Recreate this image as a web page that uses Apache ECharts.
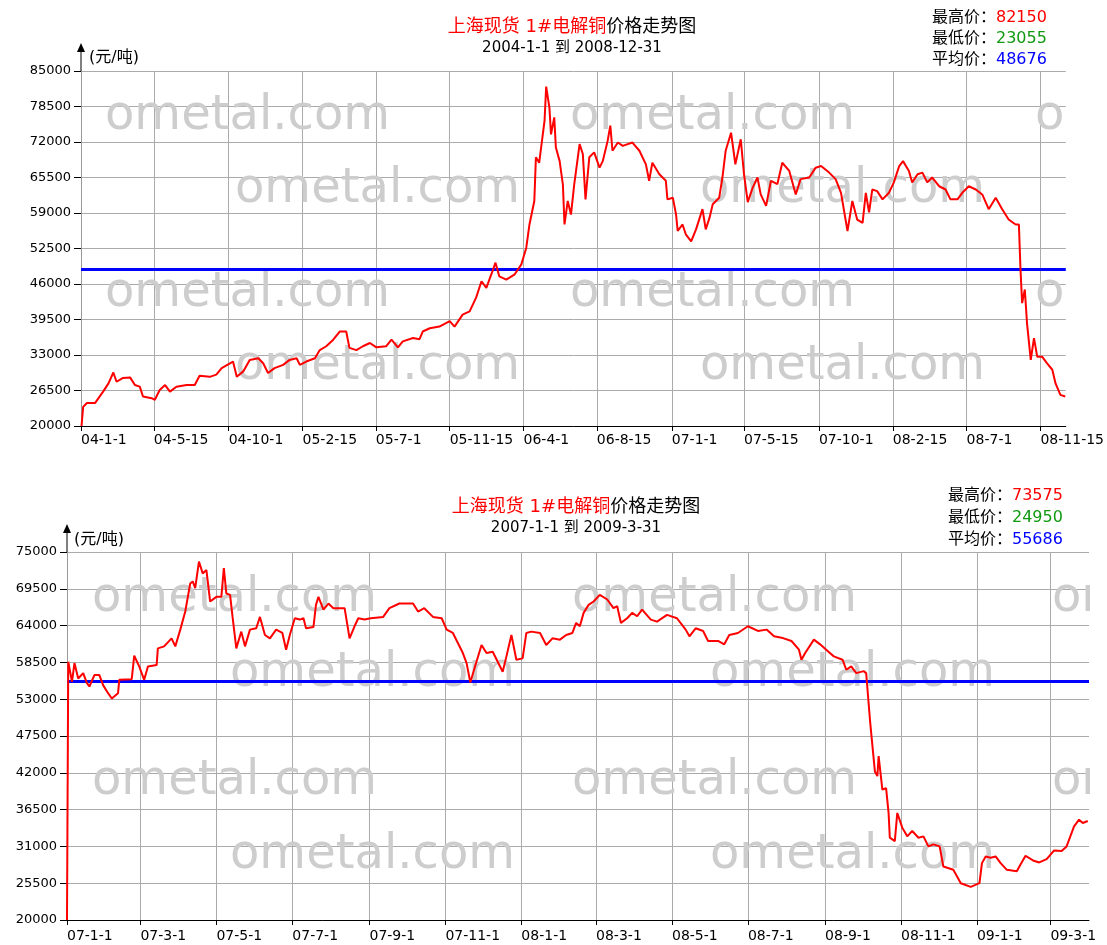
<!DOCTYPE html>
<html><head><meta charset="utf-8">
<script src="https://cdn.jsdelivr.net/npm/echarts@6/dist/echarts.min.js"></script>
<style>html,body{margin:0;padding:0;background:#fff}#c{width:1107px;height:945px}</style>
</head><body><div id="c"></div>
<script>
// ---------- Chart 1 data: 2004-1-1 .. 2008-12-31 ----------
const dates1 = [
'2004-01-02','2004-01-05','2004-01-12','2004-01-27','2004-02-11','2004-02-21','2004-03-01','2004-03-07','2004-03-19','2004-04-01','2004-04-10','2004-04-19','2004-04-25','2004-05-11','2004-05-17','2004-05-26','2004-06-05','2004-06-14','2004-06-26','2004-07-15','2004-07-30','2004-08-08','2004-08-27','2004-09-08','2004-09-18','2004-10-09','2004-10-16','2004-10-28','2004-11-09','2004-11-25','2004-12-04','2004-12-13','2004-12-25',
'2005-01-10','2005-01-22','2005-02-04','2005-02-10','2005-02-22','2005-03-10','2005-03-19','2005-03-31','2005-04-13','2005-04-25','2005-05-07','2005-05-13','2005-05-26','2005-06-07','2005-06-20','2005-07-02','2005-07-20','2005-07-30','2005-08-11','2005-08-20','2005-09-08','2005-09-20','2005-09-26','2005-10-09','2005-10-27','2005-11-15','2005-11-24','2005-12-09','2005-12-22',
'2006-01-03','2006-01-13','2006-01-22','2006-01-31','2006-02-08','2006-02-15','2006-02-28','2006-03-15','2006-03-28','2006-04-06','2006-04-12','2006-04-21','2006-04-24','2006-04-30','2006-05-10','2006-05-13','2006-05-19','2006-05-22','2006-05-28','2006-05-31','2006-06-07','2006-06-13','2006-06-16','2006-06-22','2006-06-28','2006-07-04','2006-07-14','2006-07-20','2006-07-25','2006-08-01','2006-08-10','2006-08-20','2006-08-26','2006-09-04','2006-09-09','2006-09-13','2006-09-23','2006-10-02','2006-10-20','2006-11-02','2006-11-14','2006-11-20','2006-11-26','2006-12-09','2006-12-21','2006-12-24',
'2007-01-03','2007-01-09','2007-01-12','2007-01-21','2007-01-27','2007-02-06','2007-02-15','2007-02-27','2007-03-05','2007-03-12','2007-03-18','2007-03-30','2007-04-05','2007-04-11','2007-04-21','2007-04-29','2007-05-09','2007-05-15','2007-05-22','2007-05-31','2007-06-09','2007-06-15','2007-06-25','2007-07-04','2007-07-16','2007-07-25','2007-08-07','2007-08-19','2007-08-28','2007-09-13','2007-09-25','2007-10-05','2007-10-20','2007-11-01','2007-11-11','2007-11-23','2007-12-02','2007-12-11','2007-12-21','2007-12-27',
'2008-01-02','2008-01-08','2008-01-17','2008-01-27','2008-02-08','2008-02-17','2008-02-27','2008-03-05','2008-03-16','2008-03-22','2008-04-01','2008-04-10','2008-04-19','2008-04-28','2008-05-11','2008-05-23','2008-06-01','2008-06-14','2008-06-23','2008-07-05','2008-07-18','2008-07-30','2008-08-11','2008-08-24','2008-09-05','2008-09-17','2008-09-30','2008-10-06','2008-10-09','2008-10-12','2008-10-17','2008-10-21','2008-10-28','2008-11-03','2008-11-09','2008-11-18','2008-11-27','2008-12-07','2008-12-13','2008-12-22','2008-12-31'];
const prices1 = [
20000,23500,24200,24200,26300,27800,29800,28100,28800,28900,27500,27200,25400,25100,24800,26600,27500,26300,27200,27500,27500,29200,29000,29400,30600,31800,29000,30000,32100,32400,31500,29700,30600,
31200,32100,32400,31200,31800,32400,33900,34600,35800,37300,37300,34300,33900,34600,35200,34400,34600,35800,34400,35500,36100,35900,37300,37900,38200,39200,38200,40400,41000,
43500,46500,45300,47700,49900,47400,46800,47700,49600,52600,56900,61200,69200,68200,75900,82150,78300,73400,76500,71000,68500,64200,56900,61200,58700,64200,71600,69800,61500,69200,70100,67300,68500,72200,75000,70400,71900,71300,71900,70400,67900,64900,68200,66100,64900,61500,
61800,58700,55700,56900,55100,53800,56000,59700,56000,58100,60600,61800,65500,70400,73700,67900,72500,66100,61000,63600,65500,62400,60300,64900,64300,68200,66700,62400,65200,65500,67300,67600,66400,65200,62700,55700,61200,57800,57200,62700,
59100,63300,63000,61500,62700,64600,67600,68500,66700,64600,66100,66400,64600,65500,63900,63300,61500,61500,62700,63900,63300,62400,59700,61800,59700,57800,56900,56900,48600,42500,45000,38900,32100,36100,32700,32700,31500,30300,27800,25700,25400];
const tickDates1 = ['2004-01-01','2004-05-15','2004-10-01','2005-02-15','2005-07-01','2005-11-15','2006-04-01','2006-08-15','2007-01-01','2007-05-15','2007-10-01','2008-02-15','2008-07-01','2008-11-15'];
const tickLabels1 = ['04-1-1','04-5-15','04-10-1','05-2-15','05-7-1','05-11-15','06-4-1','06-8-15','07-1-1','07-5-15','07-10-1','08-2-15','08-7-1','08-11-15'];
const yRange1 = [20000, 85000, 6500];          // min, max, step
const stats1 = [82150, 23055, 48676];           // 最高价, 最低价, 平均价
const subtitle1 = '2004-1-1 到 2008-12-31';
const xRange1 = ['2004-01-01', '2009-01-01'];

// ---------- Chart 2 data: 2007-1-1 .. 2009-3-31 ----------
const dates2 = [
'2007-01-01','2007-01-02','2007-01-05','2007-01-07','2007-01-10','2007-01-14','2007-01-17','2007-01-19','2007-01-23','2007-01-27','2007-01-30','2007-02-03','2007-02-06','2007-02-11','2007-02-12','2007-02-22','2007-02-24','2007-02-28','2007-03-04','2007-03-07','2007-03-14','2007-03-15','2007-03-20','2007-03-26','2007-03-29','2007-04-02','2007-04-06','2007-04-10','2007-04-12','2007-04-14','2007-04-17','2007-04-20','2007-04-23','2007-04-26','2007-05-01','2007-05-05','2007-05-07','2007-05-09','2007-05-12','2007-05-14','2007-05-17','2007-05-21','2007-05-24','2007-05-28','2007-06-02','2007-06-05','2007-06-09','2007-06-13','2007-06-18','2007-06-23','2007-06-26','2007-06-29','2007-07-03','2007-07-07','2007-07-10','2007-07-12','2007-07-18','2007-07-20','2007-07-22','2007-07-26','2007-07-30','2007-08-03','2007-08-12','2007-08-16','2007-08-20','2007-08-23','2007-08-28','2007-09-02','2007-09-12','2007-09-17','2007-09-25','2007-10-06','2007-10-10','2007-10-15','2007-10-22','2007-10-29','2007-11-02','2007-11-07','2007-11-11','2007-11-15','2007-11-18','2007-11-21','2007-11-24','2007-11-30','2007-12-04','2007-12-09','2007-12-13','2007-12-17','2007-12-20','2007-12-24','2007-12-28',
'2008-01-02','2008-01-05','2008-01-09','2008-01-16','2008-01-21','2008-01-26','2008-02-01','2008-02-06','2008-02-11','2008-02-14','2008-02-17','2008-02-20','2008-02-24','2008-02-28','2008-03-04','2008-03-10','2008-03-15','2008-03-18','2008-03-21','2008-03-26','2008-03-30','2008-04-03','2008-04-07','2008-04-14','2008-04-19','2008-04-27','2008-05-05','2008-05-12','2008-05-15','2008-05-20','2008-05-26','2008-05-30','2008-06-07','2008-06-12','2008-06-16','2008-06-23','2008-07-01','2008-07-09','2008-07-16','2008-07-22','2008-07-28','2008-08-05','2008-08-11','2008-08-13','2008-08-16','2008-08-23','2008-08-28','2008-09-03','2008-09-08','2008-09-15','2008-09-18','2008-09-22','2008-09-26','2008-10-02','2008-10-04','2008-10-07','2008-10-08','2008-10-11','2008-10-13','2008-10-14','2008-10-17','2008-10-20','2008-10-22','2008-10-23','2008-10-27','2008-10-29','2008-11-02','2008-11-06','2008-11-10','2008-11-15','2008-11-19','2008-11-23','2008-11-27','2008-12-02','2008-12-05','2008-12-13','2008-12-19','2008-12-27',
'2009-01-03','2009-01-05','2009-01-08','2009-01-12','2009-01-16','2009-01-20','2009-01-25','2009-02-02','2009-02-05','2009-02-09','2009-02-15','2009-02-20','2009-02-26','2009-03-04','2009-03-10','2009-03-14','2009-03-20','2009-03-24','2009-03-27','2009-03-31'];
const prices2 = [
20000,58600,55600,58400,56100,56900,55400,54900,56600,56600,55100,53900,53100,53900,55900,56000,59500,57900,55900,57900,58100,60600,60900,62100,60900,63400,66100,70300,70600,69600,73575,71800,72300,67600,68300,68300,72600,68800,68600,65300,60600,63100,60900,63400,63600,65300,62600,62100,63400,62900,60400,62600,65100,64900,65100,63600,63800,67100,68300,66400,67300,66600,66600,62100,63900,65100,64900,65100,65300,66600,67300,67300,66100,66600,65300,65100,63400,62900,61400,59900,58400,55500,57400,61100,59900,60100,58600,57100,59400,62600,58900,
59100,62900,63100,62900,61100,62100,61900,62600,62900,64400,63900,65900,67100,67600,68600,67900,66600,66900,64400,65100,65900,65400,66400,64900,64600,65600,65100,63400,62400,63600,63200,61700,61700,61200,62600,62900,63900,63200,63400,62400,62200,61700,60400,58900,59900,61900,61200,60200,59400,58900,57400,57900,56900,57200,56900,50000,48000,42200,41500,44500,39500,39700,36000,32300,31800,36000,33800,32500,33300,32300,32500,31000,31300,31000,28000,27500,25500,24950,
25500,28500,29500,29300,29500,28500,27500,27300,28300,29600,28900,28600,29100,30400,30300,31000,34000,35000,34500,34800];
const tickDates2 = ['2007-01-01','2007-03-01','2007-05-01','2007-07-01','2007-09-01','2007-11-01','2008-01-01','2008-03-01','2008-05-01','2008-07-01','2008-09-01','2008-11-01','2009-01-01','2009-03-01'];
const tickLabels2 = ['07-1-1','07-3-1','07-5-1','07-7-1','07-9-1','07-11-1','08-1-1','08-3-1','08-5-1','08-7-1','08-9-1','08-11-1','09-1-1','09-3-1'];
const yRange2 = [20000, 75000, 5500];
const stats2 = [73575, 24950, 55686];
const subtitle2 = '2007-1-1 到 2009-3-31';
const xRange2 = ['2007-01-01', '2009-04-01'];

const titleRed = '上海现货 1#电解铜';
const titleBlack = '价格走势图';
const unitName = '(元/吨)';
const statNames = ['最高价：', '最低价：', '平均价：'];
const watermark = 'ometal.com';

// ---------- helpers ----------
const FONT = 'DejaVu Sans, "Noto Sans CJK SC", sans-serif';
const toTs = s => { const p = s.split('-').map(Number); return Date.UTC(p[0], p[1] - 1, p[2]); };
const pairs = (d, v) => d.map((s, i) => [toTs(s), v[i]]);
const labelFor = (v, td, tl) => { let b = 0, bd = Infinity; td.forEach((d, i) => { const x = Math.abs(toTs(d) - v); if (x < bd) { bd = x; b = i; } }); return tl[b]; };

const G = [
  { left: 81, top: 71, width: 986, height: 355 },
  { left: 67, top: 552, width: 1022, height: 368 }
];
const cfg = [
  { dates: dates1, prices: prices1, td: tickDates1, tl: tickLabels1, yr: yRange1, st: stats1, sub: subtitle1, xr: xRange1, xMargin: 7, yMargin: 10, nameGap: 13, namePad: 8,
    titleX: 572, titleY: 27, subY: 48, statX: 932, statY: [18, 39, 60],
    wm: [[105, 117], [570, 117], [1035, 117], [235, 190], [700, 190], [105, 294], [570, 294], [1035, 294], [235, 367], [700, 367]] },
  { dates: dates2, prices: prices2, td: tickDates2, tl: tickLabels2, yr: yRange2, st: stats2, sub: subtitle2, xr: xRange2, xMargin: 9, yMargin: 10, nameGap: 12, namePad: 7,
    titleX: 576, titleY: 507, subY: 528, statX: 948, statY: [496, 518, 540],
    wm: [[92, 599], [572, 599], [1052, 599], [230, 674], [710, 674], [92, 782], [572, 782], [1052, 782], [230, 856], [710, 856]] }
];

const grid = [], xAxis = [], yAxis = [], series = [], graphic = [];
cfg.forEach((c, i) => {
  const g = G[i];
  grid.push(Object.assign({ containLabel: false }, g));
  const tv = c.td.map(toTs);
  xAxis.push({
    type: 'value', gridIndex: i, min: toTs(c.xr[0]), max: toTs(c.xr[1]),
    axisLine: { show: true, onZero: false, lineStyle: { color: '#000', width: 1 } },
    axisTick: { show: true, customValues: tv, length: 5, lineStyle: { color: '#000' } },
    axisLabel: { show: true, customValues: tv, formatter: v => labelFor(v, c.td, c.tl), color: '#000', fontSize: 14, fontFamily: FONT, align: 'left', margin: c.xMargin },
    splitLine: { show: true, lineStyle: { color: '#aaaaaa', width: 1 } }
  });
  yAxis.push({
    type: 'value', gridIndex: i, min: c.yr[0], max: c.yr[1], interval: c.yr[2],
    axisLine: { show: true, lineStyle: { color: '#999999', width: 1 } },
    axisTick: { show: true, length: 7, lineStyle: { color: '#000' } },
    axisLabel: { color: '#000', fontSize: 13, fontFamily: FONT, margin: c.yMargin, formatter: v => String(v) },
    splitLine: { show: true, lineStyle: { color: '#aaaaaa', width: 1 } },
    name: unitName, nameLocation: 'end', nameGap: c.nameGap,
    nameTextStyle: { align: 'left', verticalAlign: 'middle', padding: [0, 0, 0, c.namePad], fontSize: 16, fontFamily: FONT, color: '#000' }
  });
  series.push({
    type: 'line', xAxisIndex: i, yAxisIndex: i, data: pairs(c.dates, c.prices),
    showSymbol: false, symbol: 'none', z: 5, animation: false,
    lineStyle: { color: '#ff0000', width: 2 },
    markLine: { silent: true, symbol: ['none', 'none'], label: { show: false }, animation: false,
      lineStyle: { color: '#0000ff', width: 3, type: 'solid' }, data: [{ yAxis: c.st[2] }] }
  });
  // watermark
  c.wm.forEach(p => graphic.push({ type: 'text', x: p[0], y: p[1], z: 1, silent: true,
    style: { text: watermark, fill: '#cdcdcd', font: '48px "DejaVu Sans"', align: 'left', verticalAlign: 'middle' } }));
  // cover watermark beyond plot right edge
  graphic.push({ type: 'rect', z: 2, silent: true, shape: { x: g.left + g.width + 1, y: g.top + 2, width: 1107 - g.left - g.width, height: g.height - 20 }, style: { fill: '#fff' } });
  // axis arrow
  graphic.push({ type: 'line', z: 6, silent: true, shape: { x1: g.left, y1: g.top, x2: g.left, y2: g.top - 22 }, style: { stroke: '#000', lineWidth: 1 } });
  graphic.push({ type: 'polygon', z: 6, silent: true, shape: { points: [[g.left - 4, g.top - 19], [g.left + 4, g.top - 19], [g.left, g.top - 28]] }, style: { fill: '#000' } });
  // titles
  graphic.push({ type: 'text', x: c.titleX, y: c.titleY, z: 6, style: {
    text: '{r|' + titleRed + '}{k|' + titleBlack + '}', align: 'center', verticalAlign: 'middle',
    rich: { r: { fill: '#ff0000', fontSize: 18, fontFamily: FONT }, k: { fill: '#000', fontSize: 18, fontFamily: FONT } } } });
  graphic.push({ type: 'text', x: c.titleX, y: c.subY, z: 6, style: { text: c.sub, fill: '#000', font: '15px ' + FONT, align: 'center', verticalAlign: 'middle' } });
  const sc = ['#ff0000', '#119911', '#0000ff'];
  statNames.forEach((n, k) => graphic.push({ type: 'text', x: c.statX, y: c.statY[k], z: 6, style: {
    text: n + '{v|' + c.st[k] + '}', fill: '#000', font: '16px ' + FONT, align: 'left', verticalAlign: 'middle',
    rich: { v: { fill: sc[k], fontSize: 16, fontFamily: FONT } } } }));
});

const chart = echarts.init(document.getElementById('c'), null, { renderer: 'canvas' });
chart.setOption({ backgroundColor: '#ffffff', animation: false, grid, xAxis, yAxis, series, graphic });
</script></body></html>
